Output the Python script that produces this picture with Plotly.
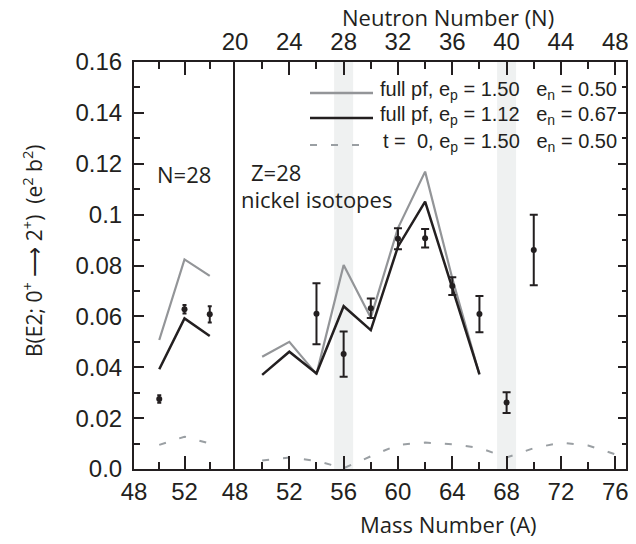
import plotly.graph_objects as go

# ---------------- data ----------------
# N=28 isotones (left panel)
iso_A = [50, 52, 54]
iso_exp = [0.0275, 0.0628, 0.0608]
iso_err = [0.0015, 0.0017, 0.0032]
iso_pf_150 = [0.0507, 0.0824, 0.0759]
iso_pf_112 = [0.0392, 0.0592, 0.0523]
iso_t0 = [0.0095, 0.0127, 0.0100]

# Z=28 nickel isotopes (right panel)
ni_exp_A = [54, 56, 58, 60, 62, 64, 66, 68, 70]
ni_exp = [0.0610, 0.0452, 0.0632, 0.0905, 0.0907, 0.0719, 0.0609, 0.0261, 0.0861]
ni_err = [0.0120, 0.0089, 0.0038, 0.0041, 0.0036, 0.0035, 0.0071, 0.0041, 0.0139]
ni_pf_A = [50, 52, 54, 56, 58, 60, 62, 64, 66]
ni_pf_150 = [0.0441, 0.0500, 0.0373, 0.0802, 0.0595, 0.0947, 0.1169, 0.0750, 0.0370]
ni_pf_112 = [0.0370, 0.0461, 0.0376, 0.0640, 0.0546, 0.0874, 0.1051, 0.0710, 0.0373]
ni_t0_A = [50, 52, 54, 56, 58, 60, 62, 64, 66, 68, 70, 72, 74, 76]
ni_t0 = [0.0033, 0.0045, 0.0032, 0.0003, 0.0050, 0.0095, 0.0104, 0.0097, 0.0083,
         0.0045, 0.0082, 0.0104, 0.0092, 0.0058]
highlight_A = [56, 68]

y_ticks = [0, 0.02, 0.04, 0.06, 0.08, 0.10, 0.12, 0.14, 0.16]
y_ticktext = ["0.0", "0.02", "0.04", "0.06", "0.08", "0.1", "0.12", "0.14", "0.16"]
left_A_ticks = [48, 52]
right_A_ticks = [48, 52, 56, 60, 64, 68, 72, 76]
N_ticks = [20, 24, 28, 32, 36, 40, 44, 48]
Z_NI = 28

legend_labels = [
    "full pf, e<sub>p</sub> = 1.50   e<sub>n</sub> = 0.50",
    "full pf, e<sub>p</sub> = 1.12   e<sub>n</sub> = 0.67",
    "t =  0, e<sub>p</sub> = 1.50   e<sub>n</sub> = 0.50",
]

# ---------------- style ----------------
BLACK = "#231f20"
GRAY = "#939598"
DASHGRAY = "#9a9fa3"
BAND = "#eff1f1"
TICKFONT = dict(family="Liberation Sans, Arial, sans-serif", size=24, color=BLACK)
TITLEFONT = dict(family="Open Sans, sans-serif", size=22, color=BLACK)
YTITLEFONT = dict(family="Open Sans, sans-serif", size=21, color=BLACK)
LEGFONT = dict(family="Liberation Sans, Arial, sans-serif", size=20, color=BLACK)

PAGE_OFF = 8  # default body margin of the html page
W, H = 636 - PAGE_OFF, 544 - PAGE_OFF
# plot area in screen pixels
X_LEFT, X_RIGHT, Y_TOP, Y_BOT = 134, 626, 62, 469
ML = X_LEFT - PAGE_OFF
MT = Y_TOP - PAGE_OFF
MR = W - (X_RIGHT - PAGE_OFF)
MB = H - (Y_BOT - PAGE_OFF)
PW = X_RIGHT - X_LEFT
PH = Y_BOT - Y_TOP
split = 101 / PW
right_max = 48 + (PW - 101) / 13.58


def px(xs):
    return (xs - X_LEFT) / PW


def py(ys):
    return (Y_BOT - ys) / PH


fig = go.Figure()

# left panel traces
fig.add_trace(go.Scatter(x=iso_A, y=iso_pf_150, mode="lines", line=dict(color=GRAY, width=2.2),
                         xaxis="x", yaxis="y", showlegend=False))
fig.add_trace(go.Scatter(x=iso_A, y=iso_pf_112, mode="lines", line=dict(color=BLACK, width=2.5),
                         xaxis="x", yaxis="y", showlegend=False))
fig.add_trace(go.Scatter(x=iso_A, y=iso_t0, mode="lines", line=dict(color=DASHGRAY, width=2, dash="7px,14px"),
                         xaxis="x", yaxis="y", showlegend=False))
fig.add_trace(go.Scatter(x=iso_A, y=iso_exp, mode="markers",
                         marker=dict(color=BLACK, size=6),
                         error_y=dict(type="data", array=iso_err, color=BLACK, thickness=2, width=2),
                         xaxis="x", yaxis="y", showlegend=False))

# right panel traces
fig.add_trace(go.Scatter(x=ni_pf_A, y=ni_pf_150, mode="lines", line=dict(color=GRAY, width=2.2),
                         xaxis="x2", yaxis="y2", showlegend=False))
fig.add_trace(go.Scatter(x=ni_pf_A, y=ni_pf_112, mode="lines", line=dict(color=BLACK, width=2.5),
                         xaxis="x2", yaxis="y2", showlegend=False))
fig.add_trace(go.Scatter(x=ni_t0_A, y=ni_t0, mode="lines", line=dict(color=DASHGRAY, width=2, dash="7px,14px"),
                         xaxis="x2", yaxis="y2", showlegend=False))
fig.add_trace(go.Scatter(x=ni_exp_A, y=ni_exp, mode="markers",
                         marker=dict(color=BLACK, size=6),
                         error_y=dict(type="data", array=ni_err, color=BLACK, thickness=2, width=4),
                         xaxis="x2", yaxis="y2", showlegend=False))
# invisible copy on the neutron-number axis so that the top axis is drawn
fig.add_trace(go.Scatter(x=[a - Z_NI for a in ni_exp_A], y=ni_exp, mode="markers",
                         marker=dict(opacity=0), hoverinfo="skip",
                         xaxis="x3", yaxis="y2", showlegend=False))

axis_common = dict(showline=True, linewidth=2, linecolor=BLACK, ticks="inside", tickwidth=2,
                   tickcolor=BLACK, showgrid=False, zeroline=False, tickfont=TICKFONT)

fig.update_layout(
    width=W, height=H,
    margin=dict(l=ML, r=MR, t=MT, b=MB, autoexpand=False),
    paper_bgcolor="white", plot_bgcolor="white",
    xaxis=dict(domain=[0, split], range=[48, 56], anchor="y", tickmode="array",
               tickvals=left_A_ticks, ticktext=[str(v) for v in left_A_ticks],
               ticklen=13, mirror="ticks", ticklabelstandoff=0,
               minor=dict(tickvals=[50, 54], ticklen=7, tickwidth=2, ticks="inside", tickcolor=BLACK),
               **axis_common),
    yaxis=dict(domain=[0, 1], range=[0, 0.16], anchor="x", tickmode="array",
               tickvals=y_ticks, ticktext=y_ticktext, ticklen=10, ticklabelstandoff=5,
               minor=dict(dtick=0.01, tick0=0, ticklen=6, tickwidth=2, ticks="inside", tickcolor=BLACK),
               **axis_common),
    xaxis2=dict(domain=[split, 1], range=[48, right_max], anchor="y2", tickmode="array",
                tickvals=right_A_ticks, ticktext=[str(v) for v in right_A_ticks],
                ticklen=13, ticklabelstandoff=0,
                minor=dict(dtick=2, tick0=48, ticklen=7, tickwidth=2, ticks="inside", tickcolor=BLACK),
                **axis_common),
    yaxis2=dict(domain=[0, 1], range=[0, 0.16], anchor="x2", side="right",
                tickmode="array", tickvals=y_ticks, showticklabels=False, ticklen=8, mirror=True,
                minor=dict(dtick=0.01, tick0=0, ticklen=4, tickwidth=2, ticks="inside", tickcolor=BLACK),
                **axis_common),
    xaxis3=dict(overlaying="x2", side="top", anchor="y2", range=[48 - Z_NI, right_max - Z_NI],
                tickmode="array", tickvals=N_ticks, ticktext=[str(v) for v in N_ticks],
                ticklen=13, ticklabelstandoff=0,
                minor=dict(dtick=2, tick0=20, ticklen=7, tickwidth=2, ticks="inside", tickcolor=BLACK),
                **axis_common),
)

# shaded bands
for a in highlight_A:
    fig.add_shape(type="rect", xref="x2", yref="paper", x0=a - 0.7, x1=a + 0.7, y0=0, y1=1,
                  fillcolor=BAND, line=dict(width=0), layer="below")

# manual legend
leg_styles = [dict(color=GRAY, width=2.5), dict(color=BLACK, width=2.5),
              dict(color=DASHGRAY, width=2, dash="7px,14px")]
leg_rows = [93, 118, 145]
for lbl, st, yr in zip(legend_labels, leg_styles, leg_rows):
    fig.add_shape(type="line", xref="paper", yref="paper", x0=px(310), x1=px(373),
                  y0=py(yr), y1=py(yr), line=st)
    fig.add_annotation(xref="paper", yref="paper", x=px(619), y=py(yr - 3), text=lbl,
                       showarrow=False, xanchor="right", yanchor="middle", font=LEGFONT)

# texts
fig.add_annotation(xref="paper", yref="paper", x=px(184), y=py(174), text="N=28",
                   showarrow=False, xanchor="center", yanchor="middle", font=TITLEFONT)
fig.add_annotation(xref="paper", yref="paper", x=px(249), y=py(172), text="Z=28",
                   showarrow=False, xanchor="left", yanchor="middle", font=TITLEFONT)
fig.add_annotation(xref="paper", yref="paper", x=px(239), y=py(199), text="nickel isotopes",
                   showarrow=False, xanchor="left", yanchor="middle", font=TITLEFONT)
fig.add_annotation(xref="paper", yref="paper", x=px(448), y=py(524), text="Mass Number (A)",
                   showarrow=False, xanchor="center", yanchor="middle", font=TITLEFONT)
fig.add_annotation(xref="paper", yref="paper", x=px(448), y=py(17), text="Neutron Number (N)",
                   showarrow=False, xanchor="center", yanchor="middle", font=TITLEFONT)
fig.add_annotation(xref="paper", yref="paper", x=px(32), y=py(251),
                   text="B(E2; 0<sup>+</sup> \u27F6 2<sup>+</sup>)  (e<sup>2</sup> b<sup>2</sup>)",
                   showarrow=False, textangle=-90, xanchor="center", yanchor="middle", font=YTITLEFONT)

fig.write_html("out.html")
